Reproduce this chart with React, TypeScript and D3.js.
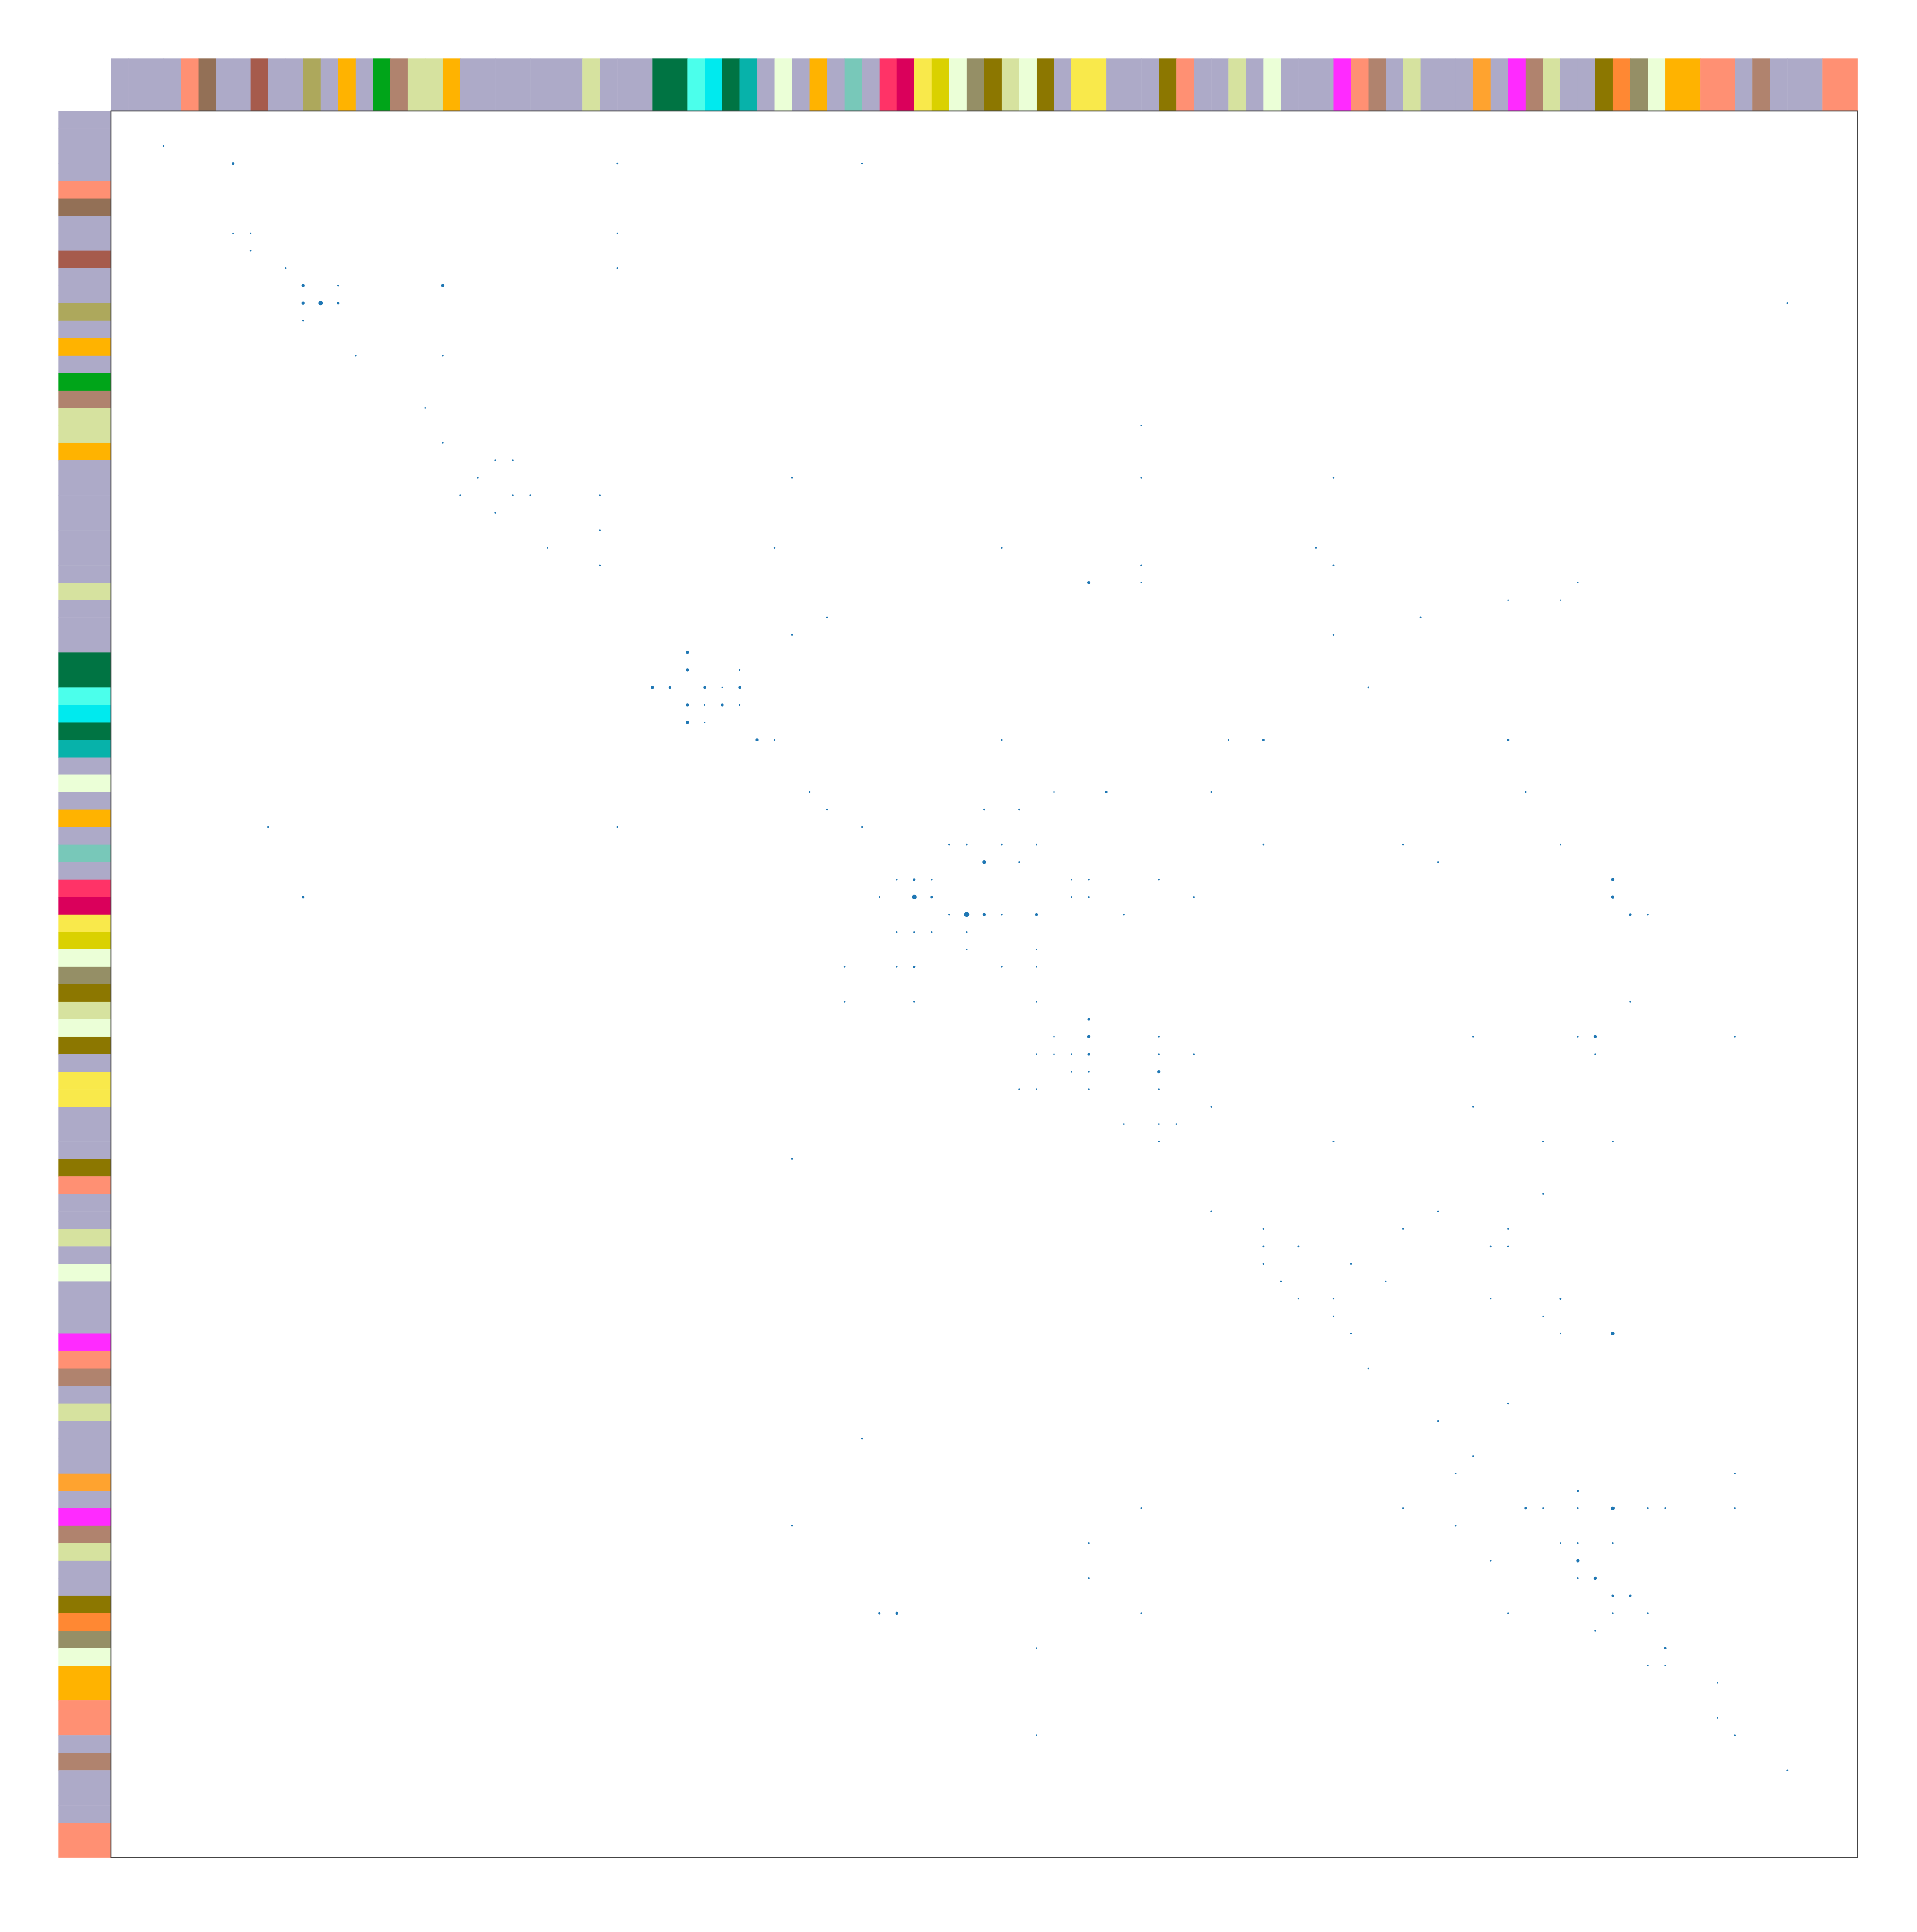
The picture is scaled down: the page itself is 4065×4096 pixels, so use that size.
import React, { useEffect, useRef } from 'react'
import * as d3 from 'd3'

// category of every row/column, in matrix order (100 of them)
const groups = [
  'A', 'A', 'A', 'A', 'B', 'C', 'A', 'A', 'D', 'A', 'A', 'E', 'A', 'F', 'A', 'G', 'H', 'I', 'I', 'F',
  'A', 'A', 'A', 'A', 'A', 'A', 'A', 'I', 'A', 'A', 'A', 'J', 'J', 'K', 'L', 'J', 'M', 'A', 'N', 'A',
  'F', 'A', 'O', 'A', 'P', 'Q', 'R', 'S', 'N', 'T', 'U', 'I', 'N', 'U', 'A', 'R', 'R', 'A', 'A', 'A',
  'U', 'B', 'A', 'A', 'I', 'A', 'N', 'A', 'A', 'A', 'V', 'B', 'H', 'A', 'I', 'A', 'A', 'A', 'W', 'A',
  'V', 'H', 'I', 'A', 'A', 'U', 'X', 'T', 'N', 'F', 'F', 'B', 'B', 'A', 'H', 'A', 'A', 'A', 'B', 'B'
]

const groupNames = ['A', 'B', 'C', 'D', 'E', 'F', 'G', 'H', 'I', 'J', 'K', 'L', 'M', 'N', 'O', 'P', 'Q', 'R', 'S', 'T', 'U', 'V', 'W', 'X']
const groupColors = [
  '#adaac8', '#ff9073', '#937056', '#a65b4c', '#ada85c', '#ffb300', '#00a519', '#b0836e',
  '#d6e29f', '#007443', '#4bffeb', '#00eaee', '#07b2aa', '#ebffd7', '#78c8b9', '#ff3367',
  '#da005b', '#f9e94b', '#dad100', '#958f66', '#8c7700', '#ff2aff', '#ffa32f', '#ff8833'
]

// [column, row, value]
const links: [number, number, number][] = [
  [3, 2, 1],
  [7, 3, 2], [29, 3, 1], [43, 3, 1],
  [7, 7, 1], [8, 7, 1], [29, 7, 1],
  [8, 8, 1],
  [10, 9, 1], [29, 9, 1],
  [11, 10, 3], [13, 10, 1], [19, 10, 3],
  [11, 11, 3], [12, 11, 6], [13, 11, 2], [96, 11, 1],
  [11, 12, 1],
  [14, 14, 1], [19, 14, 1],
  [18, 17, 1],
  [59, 18, 1],
  [19, 19, 1],
  [22, 20, 1], [23, 20, 1],
  [21, 21, 1], [39, 21, 1], [59, 21, 1], [70, 21, 1],
  [20, 22, 1], [23, 22, 1], [24, 22, 1], [28, 22, 1],
  [22, 23, 1],
  [28, 24, 1],
  [25, 25, 1], [38, 25, 1], [51, 25, 1], [69, 25, 1],
  [28, 26, 1], [59, 26, 1], [70, 26, 1],
  [56, 27, 3], [59, 27, 1], [84, 27, 1],
  [80, 28, 1], [83, 28, 1],
  [41, 29, 1], [75, 29, 1],
  [39, 30, 1], [70, 30, 1],
  [33, 31, 3],
  [33, 32, 3], [36, 32, 1],
  [31, 33, 3], [32, 33, 2], [34, 33, 3], [35, 33, 1], [36, 33, 3], [72, 33, 1],
  [33, 34, 3], [34, 34, 1], [35, 34, 3], [36, 34, 1],
  [33, 35, 3], [34, 35, 1],
  [37, 36, 3], [38, 36, 1], [51, 36, 1], [64, 36, 1], [66, 36, 2], [80, 36, 2],
  [40, 39, 1], [54, 39, 1], [57, 39, 2], [63, 39, 1], [81, 39, 1],
  [41, 40, 1], [50, 40, 1], [52, 40, 1],
  [9, 41, 1], [29, 41, 1], [43, 41, 1],
  [48, 42, 1], [49, 42, 1], [51, 42, 1], [53, 42, 1], [66, 42, 1], [74, 42, 1], [83, 42, 1],
  [50, 43, 4], [52, 43, 1], [76, 43, 1],
  [45, 44, 1], [46, 44, 2], [47, 44, 1], [55, 44, 1], [56, 44, 1], [60, 44, 1], [86, 44, 3],
  [11, 45, 2], [44, 45, 1], [46, 45, 8], [47, 45, 2], [55, 45, 1], [56, 45, 1], [62, 45, 1], [86, 45, 3],
  [48, 46, 1], [49, 46, 9], [50, 46, 3], [51, 46, 1], [53, 46, 3], [58, 46, 1], [87, 46, 2], [88, 46, 1],
  [45, 47, 1], [46, 47, 1], [47, 47, 1], [49, 47, 1],
  [49, 48, 1], [53, 48, 1],
  [42, 49, 1], [45, 49, 1], [46, 49, 2], [51, 49, 1], [53, 49, 1],
  [42, 51, 1], [46, 51, 1], [53, 51, 1], [87, 51, 1],
  [56, 52, 2],
  [54, 53, 1], [56, 53, 3], [60, 53, 1], [78, 53, 1], [84, 53, 1], [85, 53, 3], [93, 53, 1],
  [53, 54, 1], [54, 54, 1], [55, 54, 1], [56, 54, 2], [60, 54, 1], [62, 54, 1], [85, 54, 1],
  [55, 55, 1], [56, 55, 1], [60, 55, 3],
  [52, 56, 1], [53, 56, 1], [56, 56, 1], [60, 56, 1],
  [63, 57, 1], [78, 57, 1],
  [58, 58, 1], [60, 58, 1], [61, 58, 1],
  [60, 59, 1], [70, 59, 1], [82, 59, 1], [86, 59, 1],
  [39, 60, 1],
  [82, 62, 1],
  [63, 63, 1], [76, 63, 1],
  [66, 64, 1], [74, 64, 1], [80, 64, 1],
  [66, 65, 1], [68, 65, 1], [79, 65, 1], [80, 65, 1],
  [66, 66, 1], [71, 66, 1],
  [67, 67, 1], [73, 67, 1],
  [68, 68, 1], [70, 68, 1], [79, 68, 1], [83, 68, 2],
  [70, 69, 1], [82, 69, 1],
  [71, 70, 1], [83, 70, 1], [86, 70, 4],
  [72, 72, 1],
  [80, 74, 1],
  [76, 75, 1],
  [43, 76, 1],
  [78, 77, 1],
  [77, 78, 1], [93, 78, 1],
  [84, 79, 2],
  [59, 80, 1], [74, 80, 1], [81, 80, 2], [82, 80, 1], [84, 80, 1], [86, 80, 5], [88, 80, 1], [89, 80, 1], [93, 80, 1],
  [39, 81, 1], [77, 81, 1],
  [56, 82, 1], [83, 82, 1], [84, 82, 1], [86, 82, 1],
  [79, 83, 1], [84, 83, 4],
  [56, 84, 1], [84, 84, 1], [85, 84, 3],
  [86, 85, 2], [87, 85, 2],
  [44, 86, 2], [45, 86, 3], [59, 86, 1], [80, 86, 1], [86, 86, 1], [88, 86, 1],
  [85, 87, 1],
  [53, 88, 1], [89, 88, 2],
  [88, 89, 1], [89, 89, 1],
  [92, 90, 1],
  [92, 92, 1],
  [53, 93, 1], [93, 93, 1],
  [96, 95, 1]
]

const W = 4065
const H = 4096
const k = 0.826

export default function App() {
  const ref = useRef<SVGSVGElement>(null)

  useEffect(() => {
    const svg = d3.select(ref.current)
    svg.selectAll('*').remove()

    const n = groups.length
    const left = 285 * k
    const top = 285 * k
    const size = 4483 * k
    const band = 3 // strip is three cells thick

    const x = d3.scaleLinear().domain([0, n]).range([left, left + size])
    const y = d3.scaleLinear().domain([0, n]).range([top, top + size])
    const color = d3.scaleOrdinal<string, string>().domain(groupNames).range(groupColors)
    const r = d3.scaleSqrt().domain([0, 9]).range([0, 5.4])

    const cell = x(1) - x(0)

    // top strip
    svg.append('g').selectAll('rect').data(groups).join('rect')
      .attr('x', (d, i) => x(i))
      .attr('y', top - band * cell)
      .attr('width', cell + 0.5)
      .attr('height', band * cell)
      .attr('fill', d => color(d))

    // left strip
    svg.append('g').selectAll('rect').data(groups).join('rect')
      .attr('x', left - band * cell)
      .attr('y', (d, i) => y(i))
      .attr('width', band * cell)
      .attr('height', cell + 0.5)
      .attr('fill', d => color(d))

    // plot area
    svg.append('rect')
      .attr('x', left).attr('y', top)
      .attr('width', size).attr('height', size)
      .attr('fill', '#ffffff')

    svg.append('g').selectAll('circle').data(links).join('circle')
      .attr('cx', d => x(d[0]))
      .attr('cy', d => y(d[1]))
      .attr('r', d => r(d[2]))
      .attr('fill', '#1f77b4')

    svg.append('rect')
      .attr('x', left).attr('y', top)
      .attr('width', size).attr('height', size)
      .attr('fill', 'none')
      .attr('stroke', '#444444')
      .attr('stroke-width', 1.8)
  }, [])

  return (
    <svg ref={ref} width={W} height={H}
      style={{ position: 'absolute', left: 0, top: 0, background: '#ffffff' }} />
  )
}
